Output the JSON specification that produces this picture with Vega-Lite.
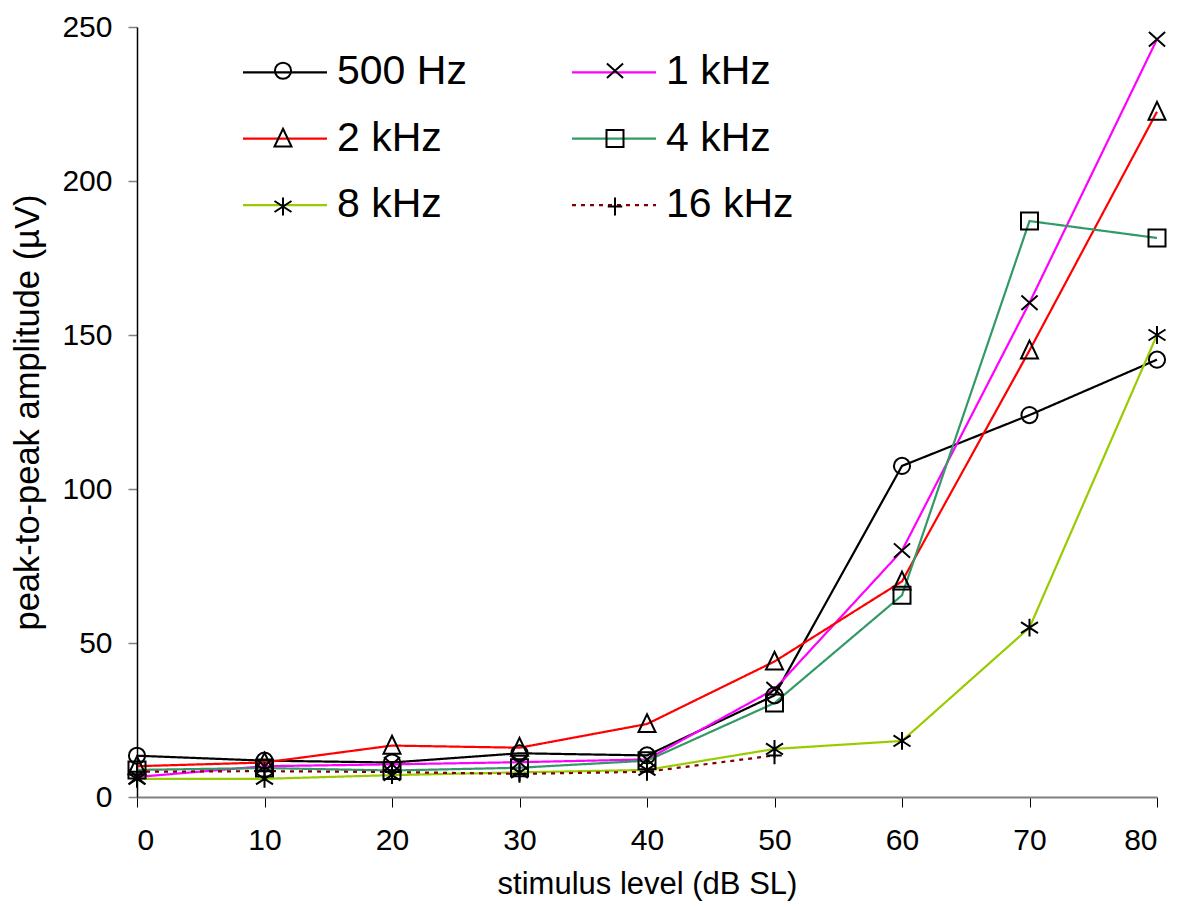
{
  "$schema": "https://vega.github.io/schema/vega-lite/v6.json",
  "width": 1020,
  "height": 770,
  "autosize": {"type": "none"},
  "padding": {"left": 137, "top": 27, "right": 23, "bottom": 110},
  "background": "white",
  "config": {
    "view": {"stroke": null},
    "font": "Liberation Sans",
    "axis": {"grid": false, "labelFont": "Liberation Sans", "titleFont": "Liberation Sans", "labelFontSize": 30, "titleFontSize": 31, "titleFontWeight": "normal", "labelColor": "black", "titleColor": "black"}
  },
  "data": {
    "values": [
      {"freq": "500 Hz", "hz": 500, "level": 0, "amp": 13.4},
      {"freq": "500 Hz", "hz": 500, "level": 10, "amp": 11.8},
      {"freq": "500 Hz", "hz": 500, "level": 20, "amp": 11.2},
      {"freq": "500 Hz", "hz": 500, "level": 30, "amp": 14.2},
      {"freq": "500 Hz", "hz": 500, "level": 40, "amp": 13.5},
      {"freq": "500 Hz", "hz": 500, "level": 50, "amp": 33},
      {"freq": "500 Hz", "hz": 500, "level": 60, "amp": 107.5},
      {"freq": "500 Hz", "hz": 500, "level": 70, "amp": 124},
      {"freq": "500 Hz", "hz": 500, "level": 80, "amp": 142},
      {"freq": "1 kHz", "hz": 1000, "level": 0, "amp": 6.5},
      {"freq": "1 kHz", "hz": 1000, "level": 10, "amp": 10},
      {"freq": "1 kHz", "hz": 1000, "level": 20, "amp": 10.6},
      {"freq": "1 kHz", "hz": 1000, "level": 30, "amp": 11.3},
      {"freq": "1 kHz", "hz": 1000, "level": 40, "amp": 12.2},
      {"freq": "1 kHz", "hz": 1000, "level": 50, "amp": 35},
      {"freq": "1 kHz", "hz": 1000, "level": 60, "amp": 80},
      {"freq": "1 kHz", "hz": 1000, "level": 70, "amp": 160.5},
      {"freq": "1 kHz", "hz": 1000, "level": 80, "amp": 246},
      {"freq": "2 kHz", "hz": 2000, "level": 0, "amp": 10},
      {"freq": "2 kHz", "hz": 2000, "level": 10, "amp": 11.2},
      {"freq": "2 kHz", "hz": 2000, "level": 20, "amp": 16.7},
      {"freq": "2 kHz", "hz": 2000, "level": 30, "amp": 16},
      {"freq": "2 kHz", "hz": 2000, "level": 40, "amp": 23.7},
      {"freq": "2 kHz", "hz": 2000, "level": 50, "amp": 44},
      {"freq": "2 kHz", "hz": 2000, "level": 60, "amp": 70},
      {"freq": "2 kHz", "hz": 2000, "level": 70, "amp": 145},
      {"freq": "2 kHz", "hz": 2000, "level": 80, "amp": 222.5},
      {"freq": "4 kHz", "hz": 4000, "level": 0, "amp": 8.8},
      {"freq": "4 kHz", "hz": 4000, "level": 10, "amp": 9.4},
      {"freq": "4 kHz", "hz": 4000, "level": 20, "amp": 8.6},
      {"freq": "4 kHz", "hz": 4000, "level": 30, "amp": 9.5},
      {"freq": "4 kHz", "hz": 4000, "level": 40, "amp": 11.8},
      {"freq": "4 kHz", "hz": 4000, "level": 50, "amp": 30.5},
      {"freq": "4 kHz", "hz": 4000, "level": 60, "amp": 65.5},
      {"freq": "4 kHz", "hz": 4000, "level": 70, "amp": 187},
      {"freq": "4 kHz", "hz": 4000, "level": 80, "amp": 181.5},
      {"freq": "8 kHz", "hz": 8000, "level": 0, "amp": 5.9},
      {"freq": "8 kHz", "hz": 8000, "level": 10, "amp": 5.9},
      {"freq": "8 kHz", "hz": 8000, "level": 20, "amp": 7.1},
      {"freq": "8 kHz", "hz": 8000, "level": 30, "amp": 8},
      {"freq": "8 kHz", "hz": 8000, "level": 40, "amp": 8.8},
      {"freq": "8 kHz", "hz": 8000, "level": 50, "amp": 15.6},
      {"freq": "8 kHz", "hz": 8000, "level": 60, "amp": 18.2},
      {"freq": "8 kHz", "hz": 8000, "level": 70, "amp": 55},
      {"freq": "8 kHz", "hz": 8000, "level": 80, "amp": 150},
      {"freq": "16 kHz", "hz": 16000, "level": 0, "amp": 8.2},
      {"freq": "16 kHz", "hz": 16000, "level": 10, "amp": 8.4},
      {"freq": "16 kHz", "hz": 16000, "level": 20, "amp": 8.1},
      {"freq": "16 kHz", "hz": 16000, "level": 30, "amp": 7.5},
      {"freq": "16 kHz", "hz": 16000, "level": 40, "amp": 8.2},
      {"freq": "16 kHz", "hz": 16000, "level": 50, "amp": 13.5}
    ]
  },
  "encoding": {
    "x": {
      "field": "level", "type": "quantitative",
      "scale": {"domain": [0, 80], "nice": false, "zero": false},
      "axis": {"values": [0, 10, 20, 30, 40, 50, 60, 70, 80], "title": "stimulus level (dB SL)", "domainColor": "#808080", "domainWidth": 2, "tickColor": "black", "tickSize": 10, "labelPadding": 18, "titlePadding": 14}
    },
    "y": {
      "field": "amp", "type": "quantitative",
      "scale": {"domain": [0, 250], "nice": false},
      "axis": {"values": [0, 50, 100, 150, 200, 250], "title": "peak-to-peak amplitude (µV)", "titleFontSize": 34.5, "domainColor": "black", "domainWidth": 1.5, "tickColor": "#808080", "tickSize": 9, "tickWidth": 1.5, "labelPadding": 16, "titlePadding": 16}
    }
  },
  "layer": [
    {
      "mark": {"type": "line", "strokeWidth": 2.2},
      "encoding": {
        "color": {
          "field": "freq", "type": "nominal",
          "scale": {"domain": ["500 Hz", "1 kHz", "2 kHz", "4 kHz", "8 kHz", "16 kHz"], "range": ["#000000", "#ff00ff", "#ff0000", "#339966", "#99cc00", "#800000"]},
          "legend": {"orient": "none", "direction": "horizontal", "legendX": 104.5, "legendY": 1.7, "title": null, "columns": 2, "columnPadding": 100, "rowPadding": 2.5, "symbolType": "stroke", "symbolSize": 7056, "symbolStrokeWidth": 2.2, "labelFontSize": 41, "labelFont": "Liberation Sans", "labelColor": "black", "labelOffset": 8.5, "labelLimit": 400}
        },
        "strokeDash": {
          "field": "freq", "type": "nominal",
          "scale": {"domain": ["500 Hz", "1 kHz", "2 kHz", "4 kHz", "8 kHz", "16 kHz"], "range": [[1, 0], [1, 0], [1, 0], [1, 0], [1, 0], [4, 5]]},
          "legend": {"orient": "none", "direction": "horizontal", "legendX": 104.5, "legendY": 1.7, "title": null, "columns": 2, "columnPadding": 100, "rowPadding": 2.5, "symbolType": "stroke", "symbolSize": 7056, "symbolStrokeWidth": 2.2, "symbolDash": [5, 8], "labelFontSize": 41, "labelFont": "Liberation Sans", "labelColor": "black", "labelOffset": 8.5, "labelLimit": 400}
        }
      }
    },
    {
      "mark": {"type": "point", "filled": false, "stroke": "black", "strokeWidth": 2, "size": 289, "opacity": 1},
      "encoding": {
        "shape": {
          "field": "hz", "type": "ordinal",
          "scale": {"domain": [500, 1000, 2000, 4000, 8000, 16000], "range": ["M0.95,0A0.95,0.95 0 1,1 -0.95,0A0.95,0.95 0 1,1 0.95,0Z", "M-0.95,-0.85L0.95,0.85M-0.95,0.85L0.95,-0.85", "M0,-1.15L1,0.95L-1,0.95Z", "M-1,-1H1V1H-1Z", "M0,-1.05L0,1.05M-1,-0.65L1,0.65M-1,0.65L1,-0.65", "M0,-1.05L0,1.05M-0.85,0L0.85,0"]},
          "legend": {"orient": "none", "direction": "horizontal", "legendX": 104.5, "legendY": 23, "title": null, "columns": 2, "columnPadding": 188, "rowPadding": 26, "symbolSize": 289, "symbolStrokeColor": "black", "symbolFillColor": "transparent", "symbolStrokeWidth": 2, "symbolOffset": 21, "labelOffset": 82, "labelFontSize": 41, "labelFont": "Liberation Sans", "labelLimit": 400, "labelExpr": "''"}
        }
      }
    }
  ]
}
